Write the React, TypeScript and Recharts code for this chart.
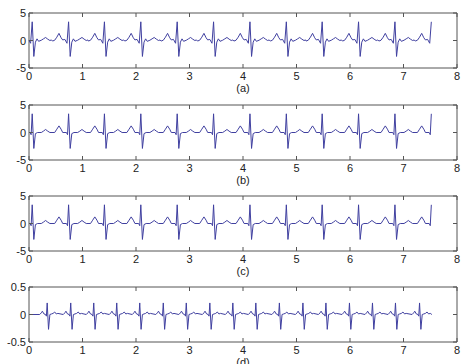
import React from 'react';
import { LineChart, Line, XAxis, YAxis, ReferenceArea, Label } from 'recharts';

const xTicks = [0, 1, 2, 3, 4, 5, 6, 7, 8];
const yTicksBig = [-5, 0, 5];
const yTicksSmall = [-0.5, 0, 0.5];

// R-peak times (a), (b), (c)
const beatsABC = [0.06, 0.74, 1.41, 2.09, 2.77, 3.45, 4.13, 4.81, 5.48, 6.16, 6.84, 7.52];
// R-peak times in panel (d)
const beatsD = [0.34, 0.78, 1.21, 1.64, 2.07, 2.51, 2.94, 3.38, 3.81, 4.24, 4.68, 5.12, 5.55, 5.99, 6.42, 6.85, 7.3];

// one heartbeat as [offset from R peak, value]
const beatA = [
  [-0.3, -0.1], [-0.26, 0.05], [-0.22, 0.6], [-0.18, 1.3], [-0.14, 0.5], [-0.11, 0.1], [-0.07, 0.2],
  [-0.03, -0.5], [0, 3.4], [0.03, -2.9], [0.06, -0.3], [0.09, 0.3], [0.12, -0.15], [0.17, 0.05],
  [0.21, 0.3], [0.25, 0.55], [0.29, 0.25], [0.33, 0], [0.36, 0.1],
];
const beatB = [
  [-0.26, 0], [-0.22, 0.6], [-0.18, 1.2], [-0.14, 0.6], [-0.11, 0], [-0.04, 0], [-0.02, -0.4],
  [0, 3.4], [0.03, -2.9], [0.06, -0.2], [0.1, 0], [0.17, 0], [0.21, 0.25], [0.25, 0.55], [0.29, 0.25], [0.33, 0],
];
const beatC = beatB;
const beatD = [
  [-0.14, 0], [-0.11, 0.03], [-0.09, 0.06], [-0.06, 0.01], [-0.03, 0], [-0.015, -0.03], [0, 0.21],
  [0.025, -0.27], [0.05, 0], [0.08, 0.01], [0.11, 0.02], [0.14, 0.045], [0.17, 0.01], [0.2, 0.02],
];

const endABC = 7.52;
const endD = 7.53;

const build = (beats: number[], shape: number[][], end: number) => {
  const pts = [{ x: 0, y: 0 }];
  beats.forEach((t) =>
    shape.forEach(([dx, v]) => {
      const x = +(t + dx).toFixed(3);
      if (x > 0 && x <= end) pts.push({ x, y: v });
    })
  );
  if (pts[pts.length - 1].x < end) pts.push({ x: end, y: 0 });
  return pts;
};

const axisColor = '#555';
const lineColor = '#4040a0';
const PLOT_H = 55;
const PLOT_W = 428;

const XTick = ({ x, y, payload }: any) => (
  <g>
    <line x1={x} y1={y} x2={x} y2={y - 4} stroke={axisColor} />
    <line x1={x} y1={y - PLOT_H} x2={x} y2={y - PLOT_H + 4} stroke={axisColor} />
    <text x={x} y={y + 12} textAnchor="middle" fontSize={11} fill="#222">
      {payload.value}
    </text>
  </g>
);

const YTick = ({ x, y, payload }: any) => (
  <g>
    <line x1={x} y1={y} x2={x + 4} y2={y} stroke={axisColor} />
    <line x1={x + PLOT_W} y1={y} x2={x + PLOT_W - 4} y2={y} stroke={axisColor} />
    <text x={x - 3} y={y + 4} textAnchor="end" fontSize={11} fill="#222">
      {payload.value}
    </text>
  </g>
);

const Panel = ({ top, data, yMax, yTicks, name }: any) => (
  <div style={{ position: 'absolute', left: 0, top }}>
    <LineChart width={461} height={100} data={data} margin={{ top: 13, right: 4, bottom: 7, left: 0 }}>
      <XAxis
        dataKey="x"
        type="number"
        domain={[0, 8]}
        ticks={xTicks}
        interval={0}
        axisLine={false}
        tickLine={false}
        tickSize={0}
        tickMargin={0}
        height={25}
        tick={XTick}
      >
        <Label value={name} position="insideBottom" offset={1} fontSize={11} fill="#222" />
      </XAxis>
      <YAxis
        type="number"
        domain={[-yMax, yMax]}
        ticks={yTicks}
        interval={0}
        axisLine={false}
        tickLine={false}
        tickSize={0}
        tickMargin={0}
        width={29}
        tick={YTick}
      />
      <ReferenceArea x1={0} x2={8} y1={-yMax} y2={yMax} fill="none" fillOpacity={0} stroke={axisColor} strokeOpacity={1} />
      <Line dataKey="y" type="linear" dot={false} stroke={lineColor} strokeWidth={1} isAnimationActive={false} />
    </LineChart>
  </div>
);

export default function App() {
  return (
    <div
      style={{
        position: 'absolute',
        left: 0,
        top: 0,
        width: 461,
        height: 364,
        overflow: 'hidden',
        background: '#fff',
        fontFamily: '"Liberation Sans", Arial, sans-serif',
      }}
    >
      <Panel top={0} data={build(beatsABC, beatA, endABC)} yMax={5} yTicks={yTicksBig} name="(a)" />
      <Panel top={92} data={build(beatsABC, beatB, endABC)} yMax={5} yTicks={yTicksBig} name="(b)" />
      <Panel top={183} data={build(beatsABC, beatC, endABC)} yMax={5} yTicks={yTicksBig} name="(c)" />
      <Panel top={274} data={build(beatsD, beatD, endD)} yMax={0.5} yTicks={yTicksSmall} name="(d)" />
    </div>
  );
}
